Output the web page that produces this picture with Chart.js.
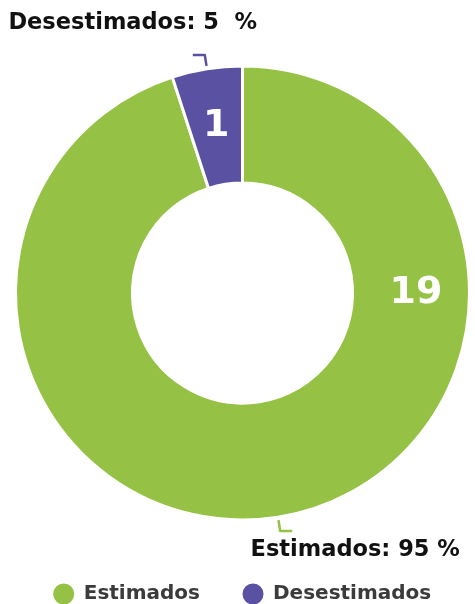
<!DOCTYPE html>
<html lang="es">
<head>
<meta charset="utf-8">
<title>Estimados / Desestimados</title>
<script src="https://cdn.jsdelivr.net/npm/chart.js@4/dist/chart.umd.min.js"></script>
<style>
  html, body { margin: 0; padding: 0; background: #fff; }
  #wrap { width: 475px; height: 604px; }
</style>
</head>
<body>
<div id="wrap"><canvas id="estimChart"></canvas></div>
<script>
/* ============================================================
   Doughnut — Estimados vs Desestimados
   ============================================================ */

const labels = ["Estimados", "Desestimados"];
const counts = [19, 1];
const percents = [95, 5];
const percentText = ["Estimados: 95 %", "Desestimados: 5  %"];
const colors = ["#95c245", "#5a51a2"];

const FONT = "'DejaVu Sans', 'Noto Sans', sans-serif";

// Count inside each slice. `angle` overrides the mid-angle (radians, canvas coords)
const sliceValues = {
  id: "sliceValues",
  afterDatasetsDraw(chart, args, opts) {
    const c = chart.ctx;
    const arcs = chart.getDatasetMeta(0).data;
    c.save();
    c.font = "700 " + opts.size + "px " + FONT;
    c.fillStyle = "#fff";
    c.textAlign = "center";
    c.textBaseline = "middle";
    arcs.forEach((arc, i) => {
      const p = arc.getProps(["x", "y", "startAngle", "endAngle", "innerRadius", "outerRadius"], true);
      const a = opts.angles[i] != null ? opts.angles[i] : (p.startAngle + p.endAngle) / 2;
      const r = (p.innerRadius + p.outerRadius) / 2 + opts.shift[i];
      c.fillText(String(counts[i]), p.x + Math.cos(a) * r, p.y + Math.sin(a) * r);
    });
    c.restore();
  }
};

// Percent call-outs with a short elbow connector
const outLabels = {
  id: "outLabels",
  afterDatasetsDraw(chart, args, opts) {
    const c = chart.ctx;
    const arcs = chart.getDatasetMeta(0).data;
    c.save();
    arcs.forEach((arc, i) => {
      const p = arc.getProps(["x", "y", "startAngle", "endAngle", "outerRadius"], true);
      const a = (p.startAngle + p.endAngle) / 2;
      const x0 = p.x + Math.cos(a) * (p.outerRadius + 3);
      const y0 = p.y + Math.sin(a) * (p.outerRadius + 3);
      const x1 = p.x + Math.cos(a) * (p.outerRadius + 14);
      const y1 = p.y + Math.sin(a) * (p.outerRadius + 14);
      const dir = x1 < p.x ? -1 : 1;
      const x2 = x1 + dir * 12;

      c.strokeStyle = colors[i];
      c.lineWidth = 2.5;
      c.lineJoin = "round";
      c.beginPath();
      c.moveTo(x0, y0);
      c.lineTo(x1, y1);
      c.lineTo(x2, y1);
      c.stroke();

      const off = opts.offsets[i];
      c.font = "700 " + opts.size + "px " + FONT;
      c.fillStyle = "#111";
      c.textAlign = "center";
      c.textBaseline = "middle";
      c.fillText(percentText[i], x2 + off.dx, y1 + off.dy);
    });
    c.restore();
  }
};

new Chart(document.getElementById("estimChart"), {
  type: "doughnut",
  data: {
    labels: labels,
    datasets: [{
      data: counts,
      backgroundColor: colors,
      borderColor: "#fff",
      borderWidth: 3,
      hoverOffset: 0
    }]
  },
  options: {
    responsive: true,
    maintainAspectRatio: false,
    animation: false,
    radius: 227,
    cutout: 112,
    layout: { padding: { top: 45, left: 10, right: 0, bottom: -10 } },
    plugins: {
      tooltip: { enabled: false },
      legend: {
        position: "bottom",
        labels: {
          usePointStyle: true,
          pointStyle: "circle",
          boxWidth: 20,
          boxHeight: 17,
          padding: 43,
          color: "#3b3b3b",
          font: { family: FONT, size: 20, weight: "700" }
        }
      },
      sliceValues: { size: 38, angles: [0, null], shift: [5, 0] },
      outLabels: {
        size: 22.5,
        offsets: [{ dx: 63, dy: 19 }, { dx: -60, dy: -32 }]
      }
    }
  },
  plugins: [sliceValues, outLabels]
});
</script>
</body>
</html>
